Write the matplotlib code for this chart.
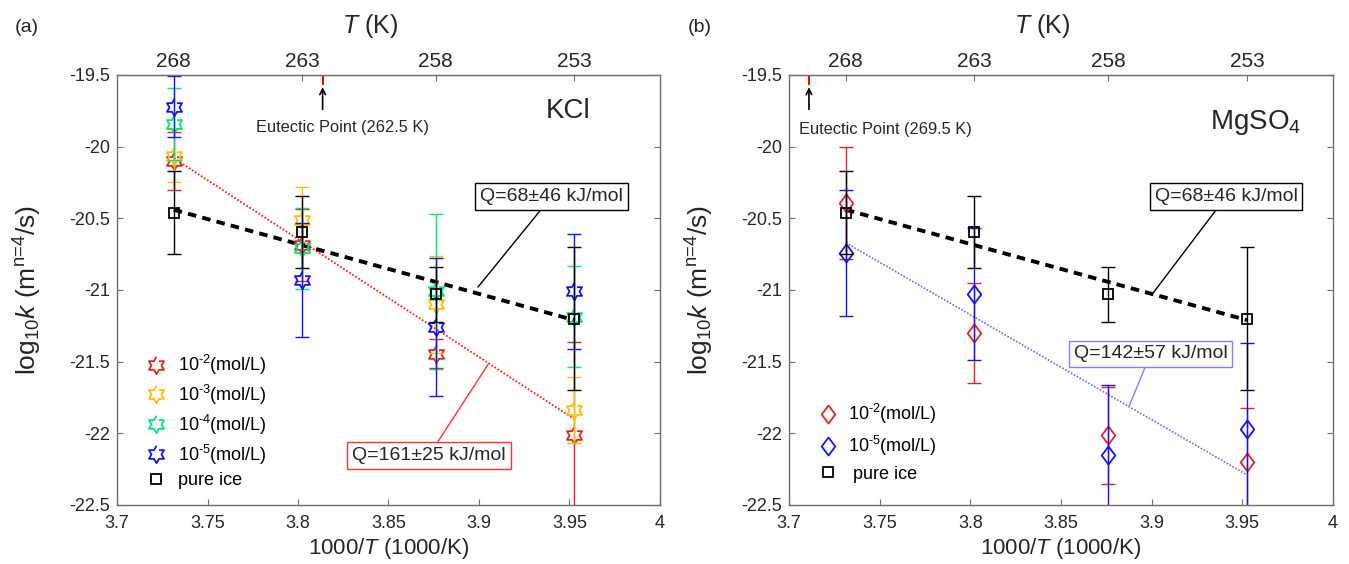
import matplotlib.pyplot as plt
import numpy as np

plt.rcParams['font.family'] = ['Liberation Sans', 'DejaVu Sans']
plt.rcParams['mathtext.fontset'] = 'custom'
plt.rcParams['mathtext.rm'] = 'Liberation Sans'
plt.rcParams['mathtext.it'] = 'Liberation Sans:italic'
plt.rcParams['mathtext.default'] = 'regular'

# temperatures of the measurements (K) and top-axis ticks
T_data = np.array([268, 263, 258, 253])
T_ticks = [268, 263, 258, 253]
inv_T = 1000 / T_data

# (a) KCl, log10 k and error half-widths
kcl_1e2 = [-20.10, -20.685, -21.445, -22.01]
kcl_1e2_err = [0.20, 0.25, 0.10, 0.65]
kcl_1e3 = [-20.065, -20.51, -21.10, -21.84]
kcl_1e3_err = [0.185, 0.23, 0.34, 0.23]
kcl_1e4 = [-19.84, -20.71, -21.01, -21.185]
kcl_1e4_err = [0.25, 0.28, 0.54, 0.35]
kcl_1e5 = [-19.72, -20.93, -21.26, -21.01]
kcl_1e5_err = [0.21, 0.40, 0.48, 0.40]

# pure ice (same in both panels)
pure = [-20.46, -20.595, -21.03, -21.20]
pure_err = [0.29, 0.25, 0.19, 0.50]

# (b) MgSO4
mg_1e2 = [-20.395, -21.30, -22.015, -22.20]
mg_1e2_err = [0.39, 0.35, 0.34, 0.376]
mg_1e5 = [-20.74, -21.03, -22.15, -21.97]
mg_1e5_err = [0.44, 0.46, 0.49, 0.60]

# Arrhenius fit lines (values at first and last temperature)
pure_fit = [-20.44, -21.21]
kcl_fit = [-20.08, -21.90]
mg_fit = [-20.67, -22.29]

labels_a = ['10$^{\\text{-}2}$(mol/L)', '10$^{\\text{-}3}$(mol/L)',
            '10$^{\\text{-}4}$(mol/L)', '10$^{\\text{-}5}$(mol/L)']
labels_b = ['10$^{\\text{-}2}$(mol/L)', '10$^{\\text{-}5}$(mol/L)']

red = '#E32222'
yellow = '#F7C000'
green = '#00E47A'
blue = '#1414F0'
spine_c = '#6E6E6E'
text_c = '#262626'

# 6-pointed star and tall diamond marker shapes
ang = np.deg2rad(90 + 30 * np.arange(12))
rad = np.where(np.arange(12) % 2 == 0, 1.0, 1 / np.sqrt(3))
hexagram = np.column_stack([rad * np.cos(ang), rad * np.sin(ang)])
diamond = [(0, 1), (0.75, 0), (0, -1), (-0.75, 0), (0, 1)]

fig = plt.figure(figsize=(13.49, 5.64), dpi=100)
ax1 = fig.add_axes([117 / 1349, 59 / 564, 543 / 1349, 430 / 564])
ax2 = fig.add_axes([789 / 1349, 59 / 564, 544 / 1349, 430 / 564])


def style_axes(ax):
    ax.set_xlim(3.7, 4.0)
    ax.set_ylim(-22.5, -19.5)
    ax.set_xticks(np.arange(3.7, 4.001, 0.05))
    ax.set_xticklabels(['3.7', '3.75', '3.8', '3.85', '3.9', '3.95', '4'])
    ax.set_yticks(np.arange(-22.5, -19.49, 0.5))
    ax.set_yticklabels(['-22.5', '-22', '-21.5', '-21', '-20.5', '-20', '-19.5'])
    ax.tick_params(direction='in', length=4, width=0.8, color=spine_c, labelsize=13,
                   labelcolor=text_c, right=True, top=False)
    ax.tick_params(axis='x', pad=7)
    ax.tick_params(axis='y', pad=5)
    for s in ax.spines.values():
        s.set_color(spine_c)
        s.set_linewidth(1.0)
    top = ax.secondary_xaxis('top')
    top.set_xticks(1000 / np.array(T_ticks), [str(t) for t in T_ticks])
    top.tick_params(direction='in', length=4, width=0.8, color=spine_c, labelsize=15,
                    labelcolor=text_c, pad=3)
    top.spines['top'].set_color(spine_c)
    ax.set_xlabel('1000/$\\mathit{T}$ (1000/K)', fontsize=16, color=text_c)
    ax.xaxis.set_label_coords(0.5, -0.072)
    ax.set_ylabel('log$_{10}$$\\mathit{k}$ (m$^{\\text{n=4}}$/s)', fontsize=19, color=text_c)
    ax.yaxis.set_label_coords(-0.135, 0.5)
    ax.text(0.466, 1.114, '$\\mathit{T}$ (K)', transform=ax.transAxes, fontsize=18,
            ha='center', va='center', color=text_c)


def series(ax, y, err, color, marker, ms, label):
    ax.errorbar(inv_T, y, yerr=err, fmt='none', ecolor=color, elinewidth=1.0,
                capsize=5, capthick=1.0)
    ax.plot(inv_T, y, ls='none', marker=marker, ms=ms, mfc='none', mec=color,
            mew=1.3, label=label)


def fit_box(ax, text, xy, xytext, color):
    ax.annotate(text, xy=xy, xytext=xytext, fontsize=14, ha='center', va='center',
                color=text_c,
                bbox=dict(boxstyle='square,pad=0.25', fc='white', ec=color, lw=1.0),
                arrowprops=dict(arrowstyle='-', color=color, lw=1.0, shrinkA=0, shrinkB=0))


def eutectic(ax, x, text, tx, ty):
    ax.plot([x, x], [-19.5, -19.565], color='red', lw=1.5)
    ax.annotate('', xy=(x, -19.585), xytext=(x, -19.74),
                arrowprops=dict(arrowstyle='->', color='black', lw=1.2, shrinkA=0, shrinkB=0))
    ax.text(tx, ty, text, fontsize=11.8, ha='center', va='center', color=text_c)


# ---- (a) KCl ----
style_axes(ax1)
ax1.plot(inv_T[[0, -1]], kcl_fit, color='#FF2020', lw=1.3, ls=(0, (1, 1)))
ax1.plot(inv_T[[0, -1]], pure_fit, color='black', lw=2.8, ls=(0, (2.2, 1.6)))
series(ax1, kcl_1e2, kcl_1e2_err, red, hexagram, 12.5, labels_a[0])
series(ax1, kcl_1e3, kcl_1e3_err, yellow, hexagram, 12.5, labels_a[1])
series(ax1, kcl_1e4, kcl_1e4_err, green, hexagram, 12.5, labels_a[2])
series(ax1, kcl_1e5, kcl_1e5_err, blue, hexagram, 12.5, labels_a[3])
series(ax1, pure, pure_err, 'black', 's', 7.5, 'pure ice')
fit_box(ax1, 'Q=68±46 kJ/mol', (3.8994, -20.98), (3.940, -20.35), 'black')
fit_box(ax1, 'Q=161±25 kJ/mol', (3.905, -21.52), (3.8724, -22.153), '#FF3030')
eutectic(ax1, 3.8136, 'Eutectic Point (262.5 K)', 3.8243, -19.863)
ax1.text(3.949, -19.751, 'KCl', fontsize=20, ha='center', va='center', color=text_c)
ax1.legend(loc='upper left', bbox_to_anchor=(0.035, 0.375), frameon=False, fontsize=13,
           handlelength=1.2, handletextpad=0.6, labelspacing=0.32, borderpad=0)
fig.text(27 / 1349, 1 - 27 / 564, '(a)', fontsize=14, ha='center', va='center', color=text_c)

# ---- (b) MgSO4 ----
style_axes(ax2)
ax2.plot(inv_T[[0, -1]], mg_fit, color='#6A6AFF', lw=1.2, ls=(0, (1, 1)))
ax2.plot(inv_T[[0, -1]], pure_fit, color='black', lw=2.8, ls=(0, (2.2, 1.6)))
series(ax2, mg_1e2, mg_1e2_err, red, diamond, 13, labels_b[0])
series(ax2, mg_1e5, mg_1e5_err, blue, diamond, 13, labels_b[1])
series(ax2, pure, pure_err, 'black', 's', 7.5, ' pure ice')
fit_box(ax2, 'Q=68±46 kJ/mol', (3.900, -21.034), (3.941, -20.35), 'black')
fit_box(ax2, 'Q=142±57 kJ/mol', (3.8875, -21.813), (3.8994, -21.446), '#8080FF')
eutectic(ax2, 3.711, 'Eutectic Point (269.5 K)', 3.753, -19.877)
ax2.text(3.9576, -19.83, 'MgSO$_4$', fontsize=20, ha='center', va='center', color=text_c)
ax2.legend(loc='upper left', bbox_to_anchor=(0.035, 0.26), frameon=False, fontsize=13,
           handlelength=1.2, handletextpad=0.5, labelspacing=0.42, borderpad=0)
fig.text(700 / 1349, 1 - 27 / 564, '(b)', fontsize=14, ha='center', va='center', color=text_c)

plt.savefig('out.png', dpi=100)
